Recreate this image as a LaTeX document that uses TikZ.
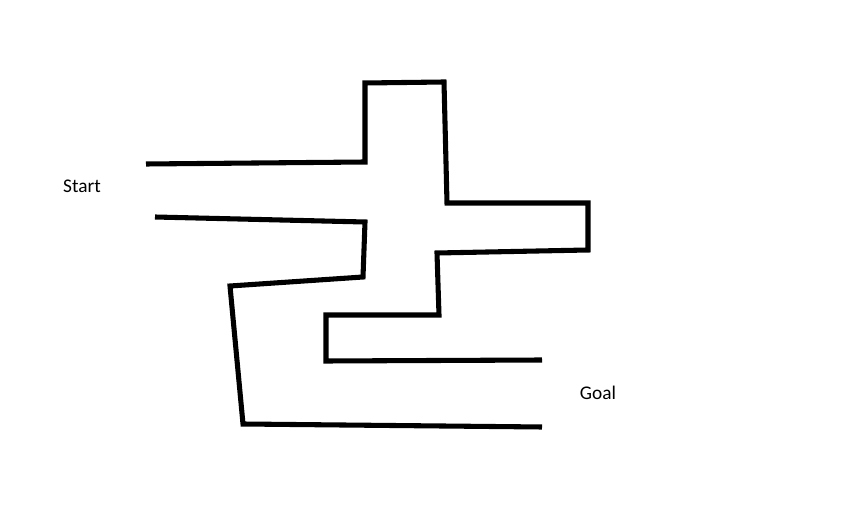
\documentclass[tikz,border=0pt]{standalone}
\usepackage{fontspec}
\newfontfamily\labelfont{Carlito}
\usetikzlibrary{positioning}
\tikzstyle{base}=[x=0.75pt, y=-0.75pt, inner sep=0pt, outer sep=0pt]
\tikzstyle{wall}=[black, line width=3.8pt, line join=miter]
\tikzstyle{mazelabel}=[font=\labelfont\fontsize{14.5}{17}\selectfont, anchor=center]
\begin{document}
\begin{tikzpicture}[base]
    \path [use as bounding box] (0,0) rectangle (868,516);
    % upper wall
    \draw [wall] (146,164) -- (365,162) -- (365,83) -- (444,82) -- (447,203)
        -- (588,203) -- (588,250) -- (437,253) -- (439,315) -- (326,315)
        -- (326,361) -- (542,360);
    % lower wall
    \draw [wall] (155,217) -- (365,222) -- (363,277) -- (230,286)
        -- (243,424) -- (542,427);
    \node [mazelabel] (start) at (82,186) {Start};
    \node [mazelabel] (goal) at (598,393) {Goal};
\end{tikzpicture}
\end{document}
